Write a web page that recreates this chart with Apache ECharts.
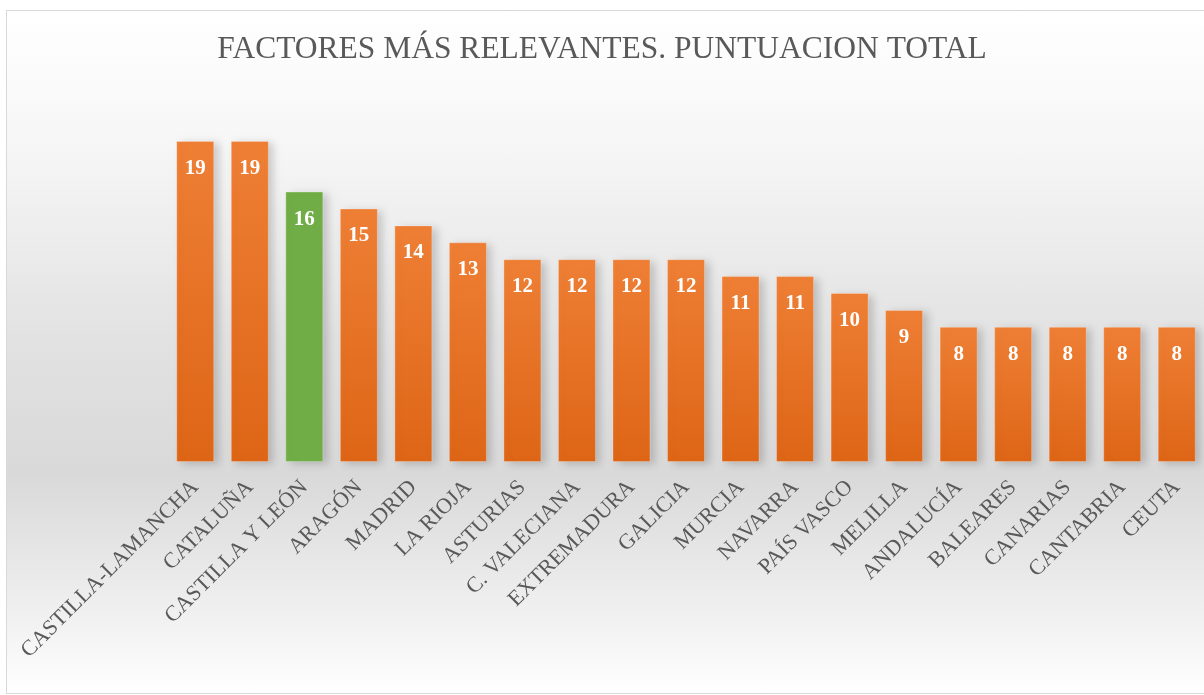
<!DOCTYPE html>
<html>
<head>
<meta charset="utf-8">
<script src="https://cdn.jsdelivr.net/npm/echarts@6/dist/echarts.min.js"></script>
<style>
  html, body { margin: 0; padding: 0; background: #fff; }
  body { width: 1204px; height: 695px; position: relative; overflow: hidden; }
  .marco {
    position: absolute; left: 6px; top: 10px; width: 1220px; height: 682px;
    border: 1px solid #d9d9d9;
    background: linear-gradient(to bottom, #ffffff 0%, #f6f6f6 20%, #e2e2e2 48%, #d9d9d9 68%, #f2f2f2 90%, #ffffff 100%);
  }
  #grafico { position: absolute; left: 0; top: 0; width: 1204px; height: 695px; }
</style>
</head>
<body>
<div class="marco"></div>
<div id="grafico"></div>
<script>
// comunidades y puntuacion total
const comunidades = ['CASTILLA-LAMANCHA', 'CATALUÑA', 'CASTILLA Y LEÓN', 'ARAGÓN', 'MADRID', 'LA RIOJA',
  'ASTURIAS', 'C. VALECIANA', 'EXTREMADURA', 'GALICIA', 'MURCIA', 'NAVARRA', 'PAÍS VASCO', 'MELILLA',
  'ANDALUCÍA', 'BALEARES', 'CANARIAS', 'CANTABRIA', 'CEUTA']
const puntuacion = [19, 19, 16, 15, 14, 13, 12, 12, 12, 12, 11, 11, 10, 9, 8, 8, 8, 8, 8]
const destacada = 'CASTILLA Y LEÓN'

const naranja = new echarts.graphic.LinearGradient(0, 0, 0, 1, [
  { offset: 0, color: '#ee7f35' },
  { offset: 1, color: '#de6516' }
])
const verde = '#70ad47'

let myChart = echarts.init(document.getElementById('grafico'))
let option = {
  animation: false,
  title: {
    text: 'FACTORES MÁS RELEVANTES. PUNTUACION TOTAL',
    left: 'center',
    top: 29,
    textStyle: {
      fontFamily: 'Liberation Serif',
      fontSize: 31.5,
      fontWeight: 'normal',
      color: '#595959'
    }
  },
  grid: {
    left: 168,
    right: 0,
    top: 124,
    bottom: 233
  },
  xAxis: {
    type: 'category',
    data: comunidades,
    axisLine: { show: false },
    axisTick: { show: false },
    axisLabel: {
      interval: 0,
      rotate: 45,
      margin: 22,
      fontFamily: 'Liberation Serif',
      fontSize: 22,
      color: '#595959'
    }
  },
  yAxis: {
    type: 'value',
    min: 0,
    max: 20,
    show: false,
    splitLine: { show: false }
  },
  series: [
    {
      type: 'bar',
      barWidth: 38,
      data: puntuacion.map((v, i) => ({
        value: v,
        itemStyle: { color: comunidades[i] === destacada ? verde : naranja }
      })),
      itemStyle: {
        borderColor: 'rgba(255,255,255,0.25)',
        borderWidth: 1,
        shadowColor: 'rgba(0,0,0,0.18)',
        shadowBlur: 8,
        shadowOffsetX: 5,
        shadowOffsetY: 2
      },
      label: {
        show: true,
        position: 'insideTop',
        distance: 17,
        fontFamily: 'Liberation Serif',
        fontWeight: 'bold',
        fontSize: 21,
        color: '#ffffff'
      }
    }
  ]
}
myChart.setOption(option, true)
</script>
</body>
</html>
